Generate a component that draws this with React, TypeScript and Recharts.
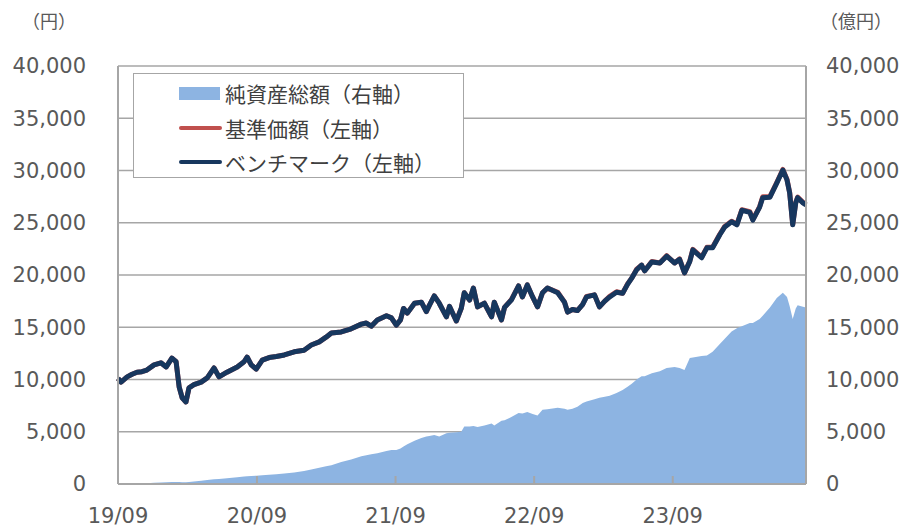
import { ComposedChart, Area, Line, XAxis, YAxis, CartesianGrid, Legend } from "recharts";

const dates = [
  "2019-09-30", "2019-10-08", "2019-10-24", "2019-11-06", "2019-11-19", "2019-12-02", "2019-12-15",
  "2020-01-03", "2020-01-21", "2020-02-04", "2020-02-19", "2020-03-01", "2020-03-09", "2020-03-17", "2020-03-27",
  "2020-04-04", "2020-04-17", "2020-05-06", "2020-05-22", "2020-06-09", "2020-06-22", "2020-07-13", "2020-08-09",
  "2020-08-27", "2020-09-04", "2020-09-15", "2020-09-28", "2020-10-14", "2020-11-01", "2020-11-20", "2020-12-11",
  "2021-01-06", "2021-02-01", "2021-02-20", "2021-03-13", "2021-03-31", "2021-04-14", "2021-05-10", "2021-06-05",
  "2021-07-02", "2021-07-15", "2021-07-28", "2021-08-13", "2021-09-06", "2021-09-19", "2021-10-02", "2021-10-13",
  "2021-10-21", "2021-10-31", "2021-11-19", "2021-12-07", "2021-12-20", "2021-12-28",
  "2022-01-10", "2022-01-23", "2022-02-11", "2022-02-19", "2022-03-09", "2022-03-22", "2022-03-30", "2022-04-13",
  "2022-04-23", "2022-05-04", "2022-05-22", "2022-06-10", "2022-06-17", "2022-07-06", "2022-07-14", "2022-08-01",
  "2022-08-20", "2022-08-30", "2022-09-12", "2022-09-26", "2022-10-09", "2022-10-22", "2022-11-04", "2022-12-01",
  "2022-12-19", "2022-12-27",
  "2023-01-09", "2023-01-22", "2023-02-05", "2023-02-15", "2023-03-08", "2023-03-21", "2023-04-04", "2023-04-17",
  "2023-05-05", "2023-05-21", "2023-06-03", "2023-06-14", "2023-06-27", "2023-07-10", "2023-07-18", "2023-08-06",
  "2023-08-27", "2023-09-14", "2023-10-05", "2023-10-18", "2023-10-31", "2023-11-14", "2023-11-22", "2023-12-15",
  "2023-12-29",
  "2024-01-13", "2024-02-01", "2024-02-14", "2024-03-03", "2024-03-17", "2024-03-30", "2024-04-20", "2024-04-28",
  "2024-05-16", "2024-05-24", "2024-06-12", "2024-06-30", "2024-07-16", "2024-07-27", "2024-08-03", "2024-08-11",
  "2024-08-19", "2024-08-24", "2024-09-07", "2024-09-15",
];

// 基準価額（円）
const navValues = [
  10100, 9750, 10250, 10500, 10700, 10750, 10900,
  11400, 11600, 11200, 12050, 11700, 9300, 8250, 7850,
  9200, 9500, 9750, 10150, 11100, 10250, 10700, 11200,
  11700, 12150, 11400, 11000, 11850, 12100, 12200, 12350,
  12650, 12800, 13300, 13600, 14050, 14450, 14550, 14850,
  15300, 15400, 15100, 15700, 16100, 15900, 15200, 15700,
  16800, 16350, 17300, 17400, 16500, 17100,
  18000, 17300, 16000, 17000, 15600, 16800, 18300, 17600,
  18750, 16950, 17300, 16000, 17400, 15700, 16900, 17650,
  18950, 17900, 19050, 17900, 16950, 18300, 18750, 18350,
  17400, 16450,
  16700, 16600, 17200, 17950, 18100, 16950, 17500, 17950,
  18400, 18250, 19150, 19700, 20550, 20950, 20400, 21300,
  21150, 21850, 21150, 21550, 20200, 21350, 22450, 21700,
  22650,
  22650, 23900, 24650, 25150, 24850, 26250, 26050, 25300,
  26550, 27500, 27500, 28850, 30100, 29150, 27900, 24850,
  26950, 27450, 26950, 26750,
];

// ベンチマーク（円）
const benchmarkValues = [
  10100, 9750, 10250, 10500, 10700, 10750, 10900,
  11400, 11600, 11200, 12050, 11700, 9300, 8250, 7850,
  9200, 9500, 9750, 10150, 11100, 10250, 10700, 11200,
  11700, 12150, 11400, 11000, 11850, 12100, 12200, 12350,
  12650, 12800, 13300, 13600, 14050, 14450, 14550, 14850,
  15300, 15400, 15100, 15700, 16100, 15900, 15200, 15700,
  16800, 16350, 17300, 17400, 16500, 17100,
  18000, 17300, 16000, 17000, 15600, 16800, 18300, 17600,
  18750, 16950, 17300, 16000, 17400, 15700, 16900, 17600,
  18950, 17900, 19050, 17900, 16950, 18300, 18750, 18300,
  17400, 16450,
  16700, 16600, 17200, 17900, 18100, 16950, 17500, 17900,
  18350, 18250, 19100, 19700, 20500, 20950, 20400, 21250,
  21150, 21800, 21150, 21500, 20200, 21300, 22400, 21650,
  22600,
  22600, 23850, 24600, 25100, 24800, 26200, 26000, 25250,
  26500, 27400, 27450, 28800, 30050, 29100, 27850, 24800,
  26900, 27400, 26900, 26700,
];

// 純資産総額（億円）
const netAssets = [
  0, 0, 10, 20, 40, 60, 80,
  110, 140, 160, 190, 200, 180, 170, 170,
  200, 250, 320, 380, 450, 480, 560, 650,
  720, 750, 760, 800, 830, 880, 930, 1000,
  1100, 1250, 1380, 1550, 1700, 1800, 2100, 2350,
  2650, 2750, 2850, 2950, 3150, 3250, 3250, 3400,
  3600, 3800, 4150, 4400, 4550, 4600,
  4700, 4550, 4850, 4900, 4950, 5000, 5500, 5500,
  5550, 5450, 5600, 5800, 5600, 6050, 6100, 6400,
  6800, 6750, 6900, 6700, 6550, 7100, 7150, 7300,
  7200, 7100,
  7200, 7400, 7750, 7900, 8100, 8250, 8350, 8450,
  8700, 9000, 9300, 9600, 10000, 10300, 10300, 10600,
  10800, 11100, 11200, 11100, 10900, 12050, 12100, 12250,
  12300,
  12650, 13400, 13900, 14600, 14900, 15100, 15400, 15400,
  15800, 16100, 16900, 17800, 18300, 17900, 17000, 15800,
  16800, 17100, 16950, 16900,
];

const xTickDates = ["2019-09-30", "2020-09-30", "2021-09-30", "2022-09-30", "2023-09-30"];
const xTickLabels = ["19/09", "20/09", "21/09", "22/09", "23/09"];
const yTicks = [0, 5000, 10000, 15000, 20000, 25000, 30000, 35000, 40000];

const legendItems = [
  { label: "純資産総額（右軸）", color: "#8db4e2", kind: "rect" },
  { label: "基準価額（左軸）", color: "#c0504d", kind: "line" },
  { label: "ベンチマーク（左軸）", color: "#17375e", kind: "line" },
];

const data = dates.map((d, i) => ({
  t: Date.parse(d),
  nav: navValues[i],
  bench: benchmarkValues[i],
  assets: netAssets[i],
}));

const xTickTimes = xTickDates.map((d) => Date.parse(d));

const axisColor = "#a6a6a6";
const textColor = "#595959";
const tickStyle = { fill: textColor, fontSize: 21, fontFamily: "'DejaVu Sans', Verdana, sans-serif" };

const renderLegend = () => (
  <div
    style={{
      width: 331,
      height: 105,
      boxSizing: "border-box",
      border: `1.5px solid ${axisColor}`,
      background: "#fff",
      position: "relative",
      fontFamily: "'Noto Sans CJK JP', sans-serif",
      fontSize: 21,
      color: "#404040",
    }}
  >
    {legendItems.map((item, i) => (
      <div
        key={item.label}
        style={{
          position: "absolute",
          left: 45,
          top: 4 + i * 34.5,
          height: 30,
          display: "flex",
          alignItems: "center",
          whiteSpace: "nowrap",
        }}
      >
        {item.kind === "rect" ? (
          <span style={{ display: "inline-block", width: 41, height: 13, background: item.color, marginRight: 5 }} />
        ) : (
          <span
            style={{ display: "inline-block", width: 43, height: 4, borderRadius: 2, background: item.color, marginRight: 3 }}
          />
        )}
        <span>{item.label}</span>
      </div>
    ))}
  </div>
);

const unitStyle = {
  position: "absolute" as const,
  top: 7,
  fontSize: 18,
  color: textColor,
  fontFamily: "'Noto Sans CJK JP', sans-serif",
};

const App = () => {
  return (
    <div style={{ position: "absolute", left: 0, top: 0, width: 899, height: 527, background: "#fff" }}>
      <ComposedChart width={899} height={527} data={data} margin={{ top: 66, right: 0, bottom: 0, left: 0 }}>
        <CartesianGrid yAxisId="left" vertical={false} stroke={axisColor} strokeWidth={1.5} />
        <XAxis
          dataKey="t"
          type="number"
          domain={[Date.parse(dates[0]), Date.parse(dates[dates.length - 1])]}
          ticks={xTickTimes}
          interval={0}
          tickFormatter={(v: number) => xTickLabels[xTickTimes.indexOf(v)] ?? ""}
          height={43}
          tick={tickStyle}
          tickSize={-8}
          tickMargin={32}
          axisLine={{ stroke: axisColor, strokeWidth: 2 }}
          tickLine={{ stroke: axisColor, strokeWidth: 2 }}
        />
        <YAxis
          yAxisId="left"
          domain={[0, 40000]}
          ticks={yTicks}
          interval={0}
          width={118}
          tick={tickStyle}
          tickFormatter={(v: number) => v.toLocaleString("en-US")}
          tickSize={0}
          tickMargin={32}
          tickLine={false}
          axisLine={{ stroke: axisColor, strokeWidth: 2 }}
        />
        <YAxis
          yAxisId="right"
          orientation="right"
          domain={[0, 40000]}
          ticks={yTicks}
          interval={0}
          width={93}
          tick={{ ...tickStyle, textAnchor: "start" }}
          tickFormatter={(v: number) => v.toLocaleString("en-US")}
          tickSize={0}
          tickMargin={20}
          tickLine={false}
          axisLine={{ stroke: axisColor, strokeWidth: 2 }}
        />
        <Area
          yAxisId="right"
          dataKey="assets"
          type="linear"
          stroke="none"
          fill="#8db4e2"
          fillOpacity={1}
          isAnimationActive={false}
        />
        <Line
          yAxisId="left"
          dataKey="nav"
          type="linear"
          stroke="#c0504d"
          strokeWidth={5}
          strokeLinejoin="round"
          dot={false}
          activeDot={false}
          isAnimationActive={false}
        />
        <Line
          yAxisId="left"
          dataKey="bench"
          type="linear"
          stroke="#17375e"
          strokeWidth={5}
          strokeLinejoin="round"
          dot={false}
          activeDot={false}
          isAnimationActive={false}
        />
        <Legend
          layout="vertical"
          align="center"
          verticalAlign="middle"
          content={renderLegend}
          wrapperStyle={{ left: 133, top: 73, width: 331, height: 105 }}
        />
      </ComposedChart>
      <div style={{ ...unitStyle, left: 22 }}>（円）</div>
      <div style={{ ...unitStyle, left: 820 }}>（億円）</div>
    </div>
  );
};

export default App;
